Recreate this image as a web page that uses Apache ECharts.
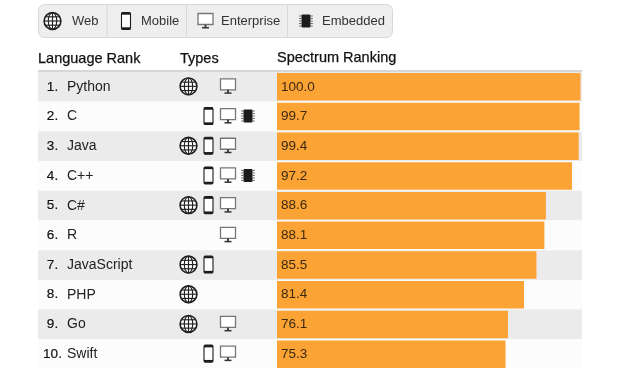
<!DOCTYPE html>
<html>
<head>
<meta charset="utf-8">
<style>html,body{margin:0;padding:0;background:#fff}#c{width:620px;height:375px}</style>
<script src="https://cdn.jsdelivr.net/npm/echarts@6/dist/echarts.min.js"></script>
</head>
<body>
<div id="c"></div>
<script>
const languages = ['Python','C','Java','C++','C#','R','JavaScript','PHP','Go','Swift'];
const ranks = [1,2,3,4,5,6,7,8,9,10];
const scores = [100.0,99.7,99.4,97.2,88.6,88.1,85.5,81.4,76.1,75.3];
const web        = [1,0,1,0,1,0,1,1,1,0];
const mobile     = [0,1,1,1,1,0,1,0,0,1];
const enterprise = [1,1,1,1,1,1,0,0,1,1];
const embedded   = [0,1,0,1,0,0,0,0,0,0];
const legendLabels = ['Web','Mobile','Enterprise','Embedded'];
const headers = ['Language Rank','Types','Spectrum Ranking'];

const FONT = '"Liberation Sans", Arial, sans-serif';

function webIcon(x, y) {
  const s = {stroke:'#222', lineWidth:1.15, fill:null};
  const kids = [
    {type:'circle', shape:{cx:0,cy:0,r:8.4}, style:{stroke:'#1e1e1e',lineWidth:1.6,fill:'#fff'}},
    {type:'ellipse', shape:{cx:0,cy:0,rx:4.2,ry:8.4}, style:s},
    {type:'line', shape:{x1:0,y1:-8.4,x2:0,y2:8.4}, style:s},
    {type:'line', shape:{x1:-8.4,y1:0,x2:8.4,y2:0}, style:s},
    {type:'line', shape:{x1:-7.4,y1:-4.2,x2:7.4,y2:-4.2}, style:s},
    {type:'line', shape:{x1:-7.4,y1:4.2,x2:7.4,y2:4.2}, style:s}
  ];
  return {type:'group', x, y, children:kids};
}
function mobileIcon(x, y) {
  return {type:'group', x, y, children:[
    {type:'rect', shape:{x:-4.5,y:-8.5,width:9,height:17,r:1.4}, style:{stroke:'#1c1c1c',lineWidth:1.1,fill:'#fff'}},
    {type:'rect', shape:{x:-4.5,y:-8.5,width:9,height:2.2}, style:{fill:'#1c1c1c'}},
    {type:'rect', shape:{x:-4.5,y:6.3,width:9,height:2.2}, style:{fill:'#1c1c1c'}}
  ]};
}
function enterpriseIcon(x, y) {
  return {type:'group', x, y, children:[
    {type:'rect', shape:{x:-7.5,y:-7.5,width:15,height:11}, style:{stroke:'#777',lineWidth:1.3,fill:'#fff'}},
    {type:'rect', shape:{x:-1,y:3.5,width:2,height:3}, style:{fill:'#444'}},
    {type:'rect', shape:{x:-3.5,y:6,width:7,height:1.5}, style:{fill:'#333'}}
  ]};
}
function embeddedIcon(x, y) {
  const kids = [{type:'rect', shape:{x:-4.5,y:-6.5,width:9,height:13,r:1}, style:{fill:'#1c1c1c'}}];
  [-5,-2.5,0,2.5,5].forEach(function (d) {
    kids.push({type:'line', shape:{x1:-6.8,y1:d,x2:-4.5,y2:d}, style:{stroke:'#555',lineWidth:0.9}});
    kids.push({type:'line', shape:{x1:4.5,y1:d,x2:6.8,y2:d}, style:{stroke:'#555',lineWidth:0.9}});
  });
  return {type:'group', x, y, children:kids};
}

const columns = [
  {flags:web, icon:webIcon, x:188.5},
  {flags:mobile, icon:mobileIcon, x:208.5},
  {flags:enterprise, icon:enterpriseIcon, x:228},
  {flags:embedded, icon:embeddedIcon, x:248}
];

const toolbarItems = [
  {icon:webIcon, ix:52.5, tx:72},
  {icon:mobileIcon, ix:126, tx:141},
  {icon:enterpriseIcon, ix:205.5, tx:221},
  {icon:embeddedIcon, ix:306, tx:322}
];
const toolbarDividers = [107, 186.5, 287.5];

const graphic = [
  {type:'rect', shape:{x:38.5,y:4.5,width:354,height:33,r:6}, style:{fill:'#eeeeee',stroke:'#d8d8d8',lineWidth:1}},
  {type:'rect', shape:{x:38,y:70,width:544,height:2}, style:{fill:'#d6d6d6'}}
];
toolbarDividers.forEach(function (x) {
  graphic.push({type:'line', shape:{x1:x,y1:5,x2:x,y2:37}, style:{stroke:'#d8d8d8',lineWidth:1}});
});
toolbarItems.forEach(function (it, i) {
  graphic.push(it.icon(it.ix, 21));
  graphic.push({type:'text', x:it.tx, y:21.5, style:{text:legendLabels[i], font:'13px '+FONT, fill:'#333', textVerticalAlign:'middle'}});
});
[38,180,277].forEach(function (x, i) {
  graphic.push({type:'text', x:x, y:i===2?57.5:59, style:{text:headers[i], font:'14.5px '+FONT, fill:'#111', textVerticalAlign:'middle', stroke:'#111', lineWidth:0.25}});
});

const chart = echarts.init(document.getElementById('c'), null, {renderer:'canvas'});
chart.setOption({
  animation:false,
  backgroundColor:'#fff',
  graphic:graphic,
  grid:{left:38, top:72, width:544, height:297, containLabel:false},
  xAxis:{type:'value', min:-78.75, max:100.5, show:false, splitLine:{show:false}},
  yAxis:{
    type:'category', inverse:true, data:languages,
    axisLine:{show:false}, axisTick:{show:false},
    splitArea:{show:true, interval:0, areaStyle:{color:['#ebebeb','#fcfcfc']}},
    axisLabel:{
      inside:true, margin:0, interval:0,
      formatter:function (v, i) { return '{r|'+ranks[i]+'.}{n|'+v+'}'; },
      rich:{
        r:{width:29, align:'center', fontFamily:FONT, fontSize:13.5, color:'#111', textBorderColor:'#111', textBorderWidth:0.2},
        n:{fontFamily:FONT, fontSize:14, color:'#222'}
      }
    }
  },
  series:[
    {
      type:'bar', data:scores, barWidth:27.5,
      itemStyle:{color:'#fca335'},
      label:{show:true, position:'insideLeft', distance:4, color:'#3a2a10', fontFamily:FONT, fontSize:13.5,
        formatter:function (p) { return p.value.toFixed(1); }},
      silent:true, z:2
    },
    {
      type:'custom', silent:true, z:3, clip:false,
      data:languages.map(function (_, i) { return [0, i]; }),
      encode:{x:0, y:1},
      renderItem:function (params, api) {
        const i = params.dataIndex;
        const y = api.coord([0, i])[1] - 0.5;
        const children = [];
        columns.forEach(function (c) { if (c.flags[i]) children.push(c.icon(c.x, y)); });
        return {type:'group', children:children};
      }
    }
  ]
});
</script>
</body>
</html>
